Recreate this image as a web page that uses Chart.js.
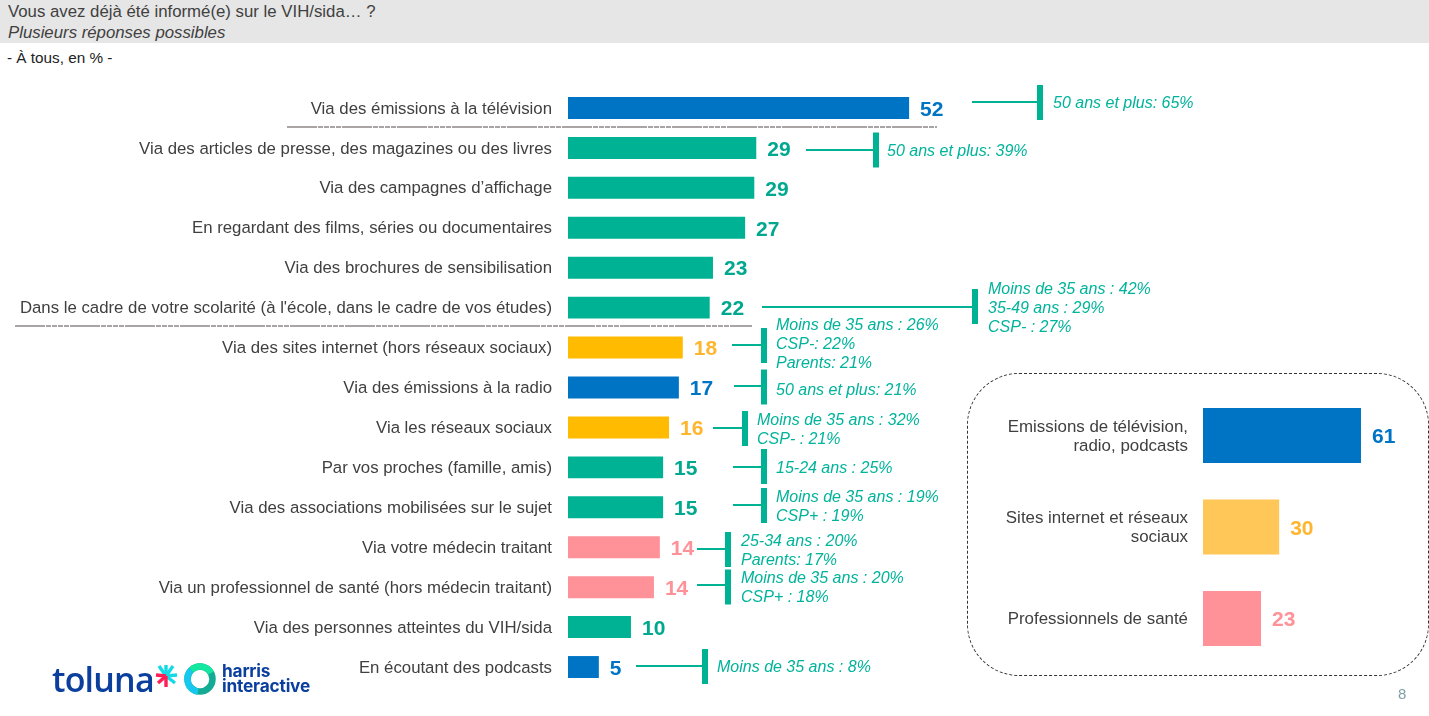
<!DOCTYPE html>
<html lang="fr"><head><meta charset="utf-8">
<script src="https://cdn.jsdelivr.net/npm/chart.js@4/dist/chart.umd.min.js"></script>
<style>
html,body{margin:0;padding:0;background:#fff;width:1429px;height:716px;overflow:hidden;font-family:"Liberation Sans",Arial,sans-serif}
.abs{position:absolute;white-space:nowrap}
#hdr{left:0;top:0;width:1429px;height:43px;background:#e6e6e6}
#t1{left:8px;top:2px;font-size:16.8px;line-height:20px;color:#404040}
#t2{left:8px;top:23px;font-size:16.8px;line-height:20px;color:#404040;font-style:italic}
#t3{left:7px;top:49px;font-size:15.3px;line-height:18px;color:#222}
#box{left:967px;top:373px;width:460px;height:301px;border:1px dashed #333;border-radius:52px;box-sizing:content-box}
#main{position:absolute;left:0;top:0}
#inset{position:absolute;left:968px;top:374px}
#pg{left:1398px;top:686px;font-size:15px;line-height:16px;color:#7f9ea6}
#tol{left:52px;top:659px;font-family:"Open Sans",sans-serif;font-weight:600;font-size:34px;line-height:40px;letter-spacing:-.8px;color:#0b3f9e}
#har{left:222px;top:664px;font-family:Inter,sans-serif;font-weight:700;font-size:17.3px;line-height:14.5px;color:#0b3f9e;letter-spacing:-.2px}
#logo{position:absolute;left:155px;top:660px}
</style></head><body>
<div class="abs" id="hdr"></div>
<div class="abs" id="t1">Vous avez déjà été informé(e) sur le VIH/sida… ?</div>
<div class="abs" id="t2">Plusieurs réponses possibles</div>
<div class="abs" id="t3">- À tous, en % -</div>
<div class="abs" id="box"></div>
<canvas id="main" width="1429" height="716"></canvas>
<canvas id="inset" width="460" height="302"></canvas>
<div class="abs" id="tol">toluna</div>
<svg id="logo" width="64" height="40" viewBox="0 0 64 40">
  <g stroke-width="3.4" stroke-linecap="butt">
    <line x1="11" y1="16" x2="11" y2="5" stroke="#14d9e6"/>
    <line x1="11" y1="16" x2="4" y2="6" stroke="#14d9e6"/>
    <line x1="11" y1="16" x2="18" y2="6" stroke="#14d9e6"/>
    <line x1="11" y1="16" x2="22" y2="15" stroke="#14d9e6"/>
    <line x1="11" y1="16" x2="20" y2="23" stroke="#14d9e6"/>
    <line x1="11" y1="16" x2="1" y2="15" stroke="#ff1e56"/>
    <line x1="11" y1="16" x2="3" y2="23" stroke="#ff1e56"/>
    <line x1="11" y1="16" x2="11" y2="27" stroke="#ff1e56"/>
  </g>
  <circle cx="45" cy="19" r="12.5" fill="none" stroke="#14ab94" stroke-width="6.5"/>
  <path d="M36.2 10.2A12.5 12.5 0 0 1 56 13" fill="none" stroke="#14e8a0" stroke-width="6.5"/>
  <path d="M36.2 10.2A12.5 12.5 0 0 0 43 31.5" fill="none" stroke="#16c8ee" stroke-width="6.5"/>
</svg>
<div class="abs" id="har">harris<br>interactive</div>
<div class="abs" id="pg">8</div>
<script>
const categories=["Via des émissions à la télévision","Via des articles de presse, des magazines ou des livres","Via des campagnes d’affichage","En regardant des films, séries ou documentaires","Via des brochures de sensibilisation","Dans le cadre de votre scolarité (à l'école, dans le cadre de vos études)","Via des sites internet (hors réseaux sociaux)","Via des émissions à la radio","Via les réseaux sociaux","Par vos proches (famille, amis)","Via des associations mobilisées sur le sujet","Via votre médecin traitant","Via un professionnel de santé (hors médecin traitant)","Via des personnes atteintes du VIH/sida","En écoutant des podcasts"];
const barValues=[52,28.7,28.4,27,22.1,21.6,17.5,16.9,15.4,14.5,14.5,14,13.1,9.6,4.7];
const shownValues=[52,29,29,27,23,22,18,17,16,15,15,14,14,10,5];
const groups=["media","other","other","other","other","other","web","media","web","other","other","health","health","other","media"];
const insetCategories=[["Emissions de télévision,","radio, podcasts"],["Sites internet et réseaux","sociaux"],["Professionnels de santé"]];
const insetValues=[61,29.4,22.4];
const insetShown=[61,30,23];
const insetGroups=["media","web","health"];
const calloutTexts=[
 ["50 ans et plus: 65%"],
 ["50 ans et plus: 39%"],
 ["Moins de 35 ans : 42%","35-49 ans : 29%","CSP- : 27%"],
 ["Moins de 35 ans : 26%","CSP-: 22%","Parents: 21%"],
 ["50 ans et plus: 21%"],
 ["Moins de 35 ans : 32%","CSP- : 21%"],
 ["15-24 ans : 25%"],
 ["Moins de 35 ans : 19%","CSP+ : 19%"],
 ["25-34 ans : 20%","Parents: 17%"],
 ["Moins de 35 ans : 20%","CSP+ : 18%"],
 ["Moins de 35 ans : 8%"]
];
// stem start x, bracket x, stem y, bracket centre y, text x, text centre y
const calloutLayout=[
 [972,1037,102,102.5,1053,103.5],[806,873,150,150,887,151.5],[762,972,307,306.5,988,309],[732,761,345,345.5,776,344.5],
 [734,761,386,387,776,390.5],[713,742,428,428.5,757,430],[733,761,467,466.5,776,468.5],[733,761,505,505.5,776,507.5],
 [697,725,549,549.5,741,551],[697,725,585,587,741,588],[636,702,666,666.5,717,667.5]
];
const barColors={media:"#0074c4",other:"#00b294",web:"#ffbb00",health:"#ff9198"};
const labelColors={media:"#0074c4",other:"#00a88f",web:"#ffb62e",health:"#ff9198"};
const insetBarColors={media:"#0074c4",web:"#ffc757",health:"#ff9198"};
const TEAL="#00b294";
const TEAL_TEXT="#00b39b";
const FONT='"Liberation Sans", Arial, sans-serif';

const valueLabels=(shown,grp,gap)=>({id:"valueLabels",afterDatasetsDraw(c){
  const x=c.getDatasetMeta(0).data,ctx=c.ctx;ctx.save();
  ctx.font="bold 21px "+FONT;ctx.textBaseline="middle";ctx.textAlign="left";
  x.forEach((b,i)=>{ctx.fillStyle=labelColors[grp[i]];ctx.fillText(shown[i],b.x+gap,b.y+2);});
  ctx.restore();}});

const callouts={id:"callouts",afterDraw(c){
  const ctx=c.ctx;ctx.save();
  ctx.strokeStyle="#a9a5a5";ctx.lineWidth=2;ctx.setLineDash([30,1,5,1,5,1,5,1,5,1]);
  [[287,937,127],[15,752,326]].forEach(([a,b,y])=>{ctx.beginPath();ctx.moveTo(a,y);ctx.lineTo(b,y);ctx.stroke();});
  ctx.setLineDash([]);
  ctx.font="italic 16px "+FONT;ctx.textBaseline="middle";ctx.textAlign="left";
  calloutTexts.forEach((lines,k)=>{
    const [x0,bx,sy,by,tx,ty]=calloutLayout[k];
    ctx.fillStyle=TEAL;
    ctx.fillRect(x0,sy-1,bx-x0,2);
    ctx.fillRect(bx,by-17.5,6,35);
    ctx.fillStyle=TEAL_TEXT;
    lines.forEach((t,j)=>ctx.fillText(t,tx,ty+(j-(lines.length-1)/2)*19));
  });
  ctx.restore();}};

// nudge the axis labels one pixel down, as in the reference
function nudge(s){
  s._computeLabelItems=function(ca){
    const items=Chart.Scale.prototype._computeLabelItems.call(this,ca);
    items.forEach(i=>{i.options.translation=[i.options.translation[0],i.options.translation[1]+1];});
    return items;};
}

new Chart(document.getElementById("main"),{type:"bar",
 data:{labels:categories,datasets:[{data:barValues,backgroundColor:groups.map(g=>barColors[g]),barPercentage:.55,categoryPercentage:1}]},
 options:{indexAxis:"y",responsive:false,animation:false,events:[],
  layout:{padding:{left:0,right:205,top:88,bottom:29}},
  plugins:{legend:{display:false},tooltip:{enabled:false},title:{display:false}},
  scales:{x:{display:false,min:0,max:100},
   y:{afterFit:s=>{s.width=568;nudge(s);},border:{display:false},grid:{display:false,drawTicks:false},
      ticks:{padding:16,autoSkip:false,color:"#404040",font:{family:FONT,size:16.8}}}}},
 plugins:[valueLabels(shownValues,groups,11),callouts]});

new Chart(document.getElementById("inset"),{type:"bar",
 data:{labels:insetCategories,datasets:[{data:insetValues,backgroundColor:insetGroups.map(g=>insetBarColors[g]),barPercentage:.6,categoryPercentage:1}]},
 options:{indexAxis:"y",responsive:false,animation:false,events:[],
  layout:{padding:{left:0,right:17.8,top:15.75,bottom:11.75}},
  plugins:{legend:{display:false},tooltip:{enabled:false}},
  scales:{x:{display:false,min:0,max:80},
   y:{afterFit:s=>{s.width=235;s.paddingTop=0;s.paddingBottom=0;nudge(s);},border:{display:false},grid:{display:false,drawTicks:false},
      ticks:{padding:15,autoSkip:false,color:"#404040",font:{family:FONT,size:16.9,lineHeight:1.13}}}}},
 plugins:[valueLabels(insetShown,insetGroups,11)]});
</script>
</body></html>
